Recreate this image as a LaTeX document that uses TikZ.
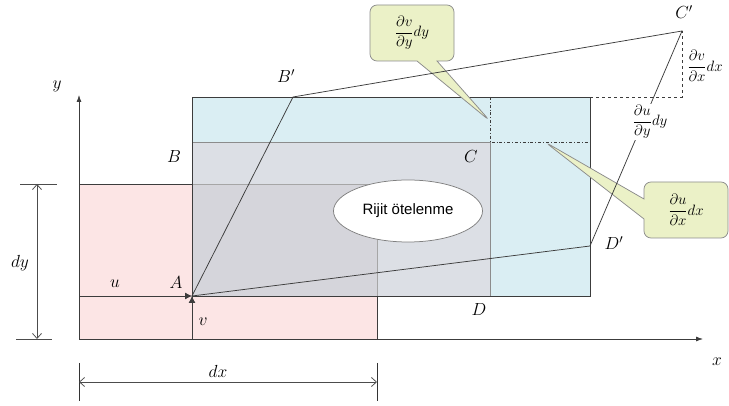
\RequirePackage{fix-cm}
\documentclass[tikz,border=0pt]{standalone}
\usepackage{amsmath}
\usepackage{fontspec}
\newfontfamily\rijitfont{Liberation Sans}
\usetikzlibrary{arrows.meta,shapes.geometric,shapes.callouts}

\definecolor{pinkel}{RGB}{252,229,229}
\definecolor{blueel}{RGB}{218,238,243}
\definecolor{grayel}{RGB}{220,223,229}
\definecolor{grayover}{RGB}{213,213,219}
\definecolor{bubblegreen}{RGB}{235,241,199}
\definecolor{edge}{RGB}{60,60,60}

\begin{document}
\begin{tikzpicture}[x=1pt,y=-1pt,line width=0.75pt,
  lbl/.style={font=\fontsize{17.5}{19}\selectfont,inner sep=1pt},
  frac/.style={font=\fontsize{15}{17}\selectfont,inner sep=1pt},
  bubble/.style={shape=rectangle callout,rounded corners=7pt,draw=black!45,fill=bubblegreen,
    minimum width=84pt,minimum height=56pt,callout pointer width=20pt,font=\fontsize{15}{17}\selectfont},
  dimline/.style={draw=black!70,{Straight Barb[length=5pt,width=9pt]}-{Straight Barb[length=5pt,width=9pt]}}]
  \useasboundingbox (0,0) rectangle (729,406);

  % corner points
  \coordinate (O) at (79,339);
  \coordinate (A) at (192,296);
  \coordinate (C) at (490,142);
  \coordinate (Bp) at (293,97);
  \coordinate (Cp) at (682,31);
  \coordinate (Dp) at (590,246);
  \coordinate (Ct) at (Cp |- Bp);
  \coordinate (Dt) at (Dp |- Bp);
  \coordinate (Cr) at (590,142);
  \coordinate (tipv) at (490,121);
  \coordinate (tipu) at (545,142);

  % element: original, stretched, translated
  \fill[pinkel] (79,184) rectangle (377,339);
  \fill[blueel] (192,97) rectangle (590,296);
  \fill[grayel] (192,142) rectangle (490,296);
  \fill[grayover] (192,184) rectangle (377,296);
  \draw[black!35,line width=0.5pt] (192,184) -- (377,184) -- (377,296);
  \draw[black!45,line width=0.5pt] (192,142) -- (C) -- (490,296);
  \draw[edge] (79,184) -- (192,184);
  \draw[edge] (377,296) -- (377,339);
  \draw[edge] (192,339) -- (192,97) -- (Dt) -- (590,296) -- (A);

  \node[ellipse,draw=black!50,fill=white,minimum width=149pt,minimum height=62pt,
    font=\rijitfont\fontsize{15}{17}\selectfont] (rigid) at (408,211) {Rijit ötelenme};

  % axes
  \draw[edge,-{Latex[length=7pt,width=5pt]}] (O) -- (703,339);
  \draw[edge,-{Latex[length=7pt,width=5pt]}] (O) -- (79,95);
  \node[lbl] (xlab) at (717,362) {$x$};
  \node[lbl] (ylab) at (57,86) {$y$};

  % dimensions
  \draw[black!70] (20,184) -- (57,184) (16,339) -- (52,339);
  \draw[dimline] (37,184) -- (37,339);
  \node[lbl] (dylab) at (20,263) {$dy$};
  \draw[black!80] (79,363) -- (79,401) (377,363) -- (377,401);
  \draw[dimline] (79,382) -- (377,382);
  \node[lbl] (dxlab) at (218,371) {$dx$};

  % rigid translation u, v
  \draw[edge,-{Latex[length=7pt,width=7pt]}] (79,296) -- (A);
  \draw[edge,-{Latex[length=7pt,width=7pt]}] (192,339) -- (A);
  \node[lbl] (ulab) at (115,284) {$u$};
  \node[lbl] (vlab) at (203,322) {$v$};

  % callouts
  \node[bubble,callout absolute pointer={(tipv)}] (dvdy) at (412,33) {$\dfrac{\partial v}{\partial y}dy$};
  \node[bubble,callout absolute pointer={(tipu)}] (dudx) at (686,210) {$\dfrac{\partial u}{\partial x}dx$};

  % extra displacements
  \draw[edge,dashed,line width=0.6pt] (Dt) -- (Ct) -- (Cp);
  \draw[edge,dash dot,line width=0.6pt] (490,97) -- (C) -- (Cr);

  % deformed element
  \draw[edge] (A) -- (Bp) -- (Cp) -- (Dp) -- cycle;
  \node[frac,fill=white] (dudy) at (650,122) {$\dfrac{\partial u}{\partial y}dy$};
  \node[frac] (dvdx) at (705,66) {$\dfrac{\partial v}{\partial x}dx$};

  % corner labels
  \node[lbl] (Alab) at (176,283) {$A$};
  \node[lbl] (Blab) at (174,157) {$B$};
  \node[lbl] (Clab) at (471,157) {$C$};
  \node[lbl] (Dlab) at (479,310) {$D$};
  \node[lbl] (Bplab) at (286,76) {$B'$};
  \node[lbl] (Cplab) at (684,12) {$C'$};
  \node[lbl] (Dplab) at (614,243) {$D'$};
\end{tikzpicture}
\end{document}
